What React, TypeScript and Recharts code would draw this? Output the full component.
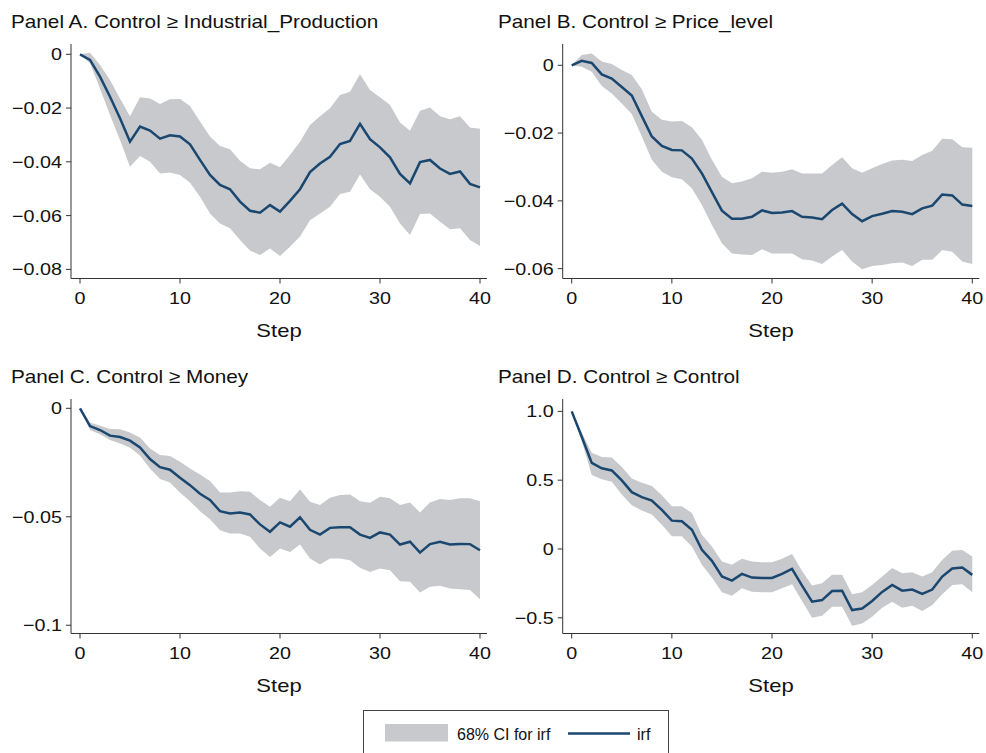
import React from 'react';
import { ComposedChart, Area, Line, XAxis, YAxis } from 'recharts';

const steps = [0, 1, 2, 3, 4, 5, 6, 7, 8, 9, 10, 11, 12, 13, 14, 15, 16, 17, 18, 19, 20, 21, 22, 23, 24, 25, 26, 27, 28, 29, 30, 31, 32, 33, 34, 35, 36, 37, 38, 39, 40];
const xTicks = [0, 10, 20, 30, 40];

// Panel A: Control >= Industrial_Production
const irfA = [0, -0.0021, -0.0083, -0.0158, -0.0238, -0.0325, -0.0269, -0.0284, -0.0314, -0.0301, -0.0306, -0.0335, -0.0393, -0.0449, -0.0486, -0.0502, -0.0548, -0.0582, -0.0589, -0.0561, -0.0585, -0.0545, -0.0502, -0.0438, -0.0406, -0.0381, -0.0334, -0.0322, -0.0259, -0.0316, -0.0346, -0.0383, -0.0445, -0.048, -0.0401, -0.0393, -0.0425, -0.0445, -0.0436, -0.0482, -0.0495];
const upperA = [0, 0.0006, -0.004, -0.0096, -0.0164, -0.023, -0.016, -0.0164, -0.0185, -0.0167, -0.0166, -0.0192, -0.025, -0.0306, -0.0341, -0.0353, -0.0396, -0.0424, -0.0428, -0.0403, -0.042, -0.0375, -0.0325, -0.0263, -0.023, -0.0201, -0.0151, -0.0139, -0.0074, -0.0133, -0.016, -0.0189, -0.0254, -0.0284, -0.021, -0.0198, -0.023, -0.0242, -0.023, -0.0272, -0.0277];
const lowerA = [0, -0.0033, -0.0127, -0.0226, -0.0319, -0.0418, -0.0378, -0.04, -0.0443, -0.044, -0.0449, -0.0478, -0.053, -0.0592, -0.0629, -0.0647, -0.0691, -0.073, -0.0747, -0.0722, -0.075, -0.0716, -0.0678, -0.0617, -0.0592, -0.0567, -0.052, -0.0511, -0.0447, -0.0502, -0.053, -0.0567, -0.0629, -0.0672, -0.0594, -0.0592, -0.0623, -0.0651, -0.0647, -0.0691, -0.0713];
const yTicksA = [0, -0.02, -0.04, -0.06, -0.08];
const yLabelsA = ['0', '\u22120.02', '\u22120.04', '\u22120.06', '\u22120.08'];

// Panel B: Control >= Price_level
const irfB = [0, 0.0013, 0.0007, -0.0027, -0.0039, -0.0064, -0.0089, -0.015, -0.021, -0.0238, -0.025, -0.0251, -0.0275, -0.0319, -0.0374, -0.0429, -0.0453, -0.0453, -0.0447, -0.0428, -0.0436, -0.0434, -0.043, -0.0447, -0.0449, -0.0454, -0.0427, -0.0408, -0.0439, -0.046, -0.0445, -0.0438, -0.043, -0.0432, -0.0439, -0.0422, -0.0414, -0.0381, -0.0384, -0.0411, -0.0415];
const upperB = [0, 0.003, 0.0035, 0.0011, 0.0004, -0.0014, -0.0029, -0.0071, -0.0137, -0.0161, -0.0166, -0.0164, -0.0183, -0.022, -0.0279, -0.0329, -0.0348, -0.0343, -0.0333, -0.0314, -0.0317, -0.0314, -0.0307, -0.0319, -0.0319, -0.0319, -0.0294, -0.0271, -0.0304, -0.0317, -0.0304, -0.0291, -0.0281, -0.0279, -0.0282, -0.0265, -0.0252, -0.0217, -0.0218, -0.0242, -0.0243];
const lowerB = [0, -0.0004, -0.0019, -0.0061, -0.0083, -0.0113, -0.0144, -0.021, -0.0279, -0.0314, -0.033, -0.0336, -0.0363, -0.0412, -0.0471, -0.0525, -0.0555, -0.0558, -0.056, -0.0543, -0.0555, -0.0555, -0.0555, -0.0572, -0.0576, -0.0586, -0.0564, -0.0545, -0.0579, -0.0602, -0.0592, -0.0589, -0.0584, -0.0582, -0.0592, -0.0574, -0.0574, -0.0545, -0.055, -0.0579, -0.0586];
const yTicksB = [0, -0.02, -0.04, -0.06];
const yLabelsB = ['0', '\u22120.02', '\u22120.04', '\u22120.06'];

// Panel C: Control >= Money
const irfC = [0, -0.0082, -0.01, -0.0126, -0.0132, -0.0149, -0.018, -0.0234, -0.0271, -0.0283, -0.032, -0.0354, -0.0394, -0.0422, -0.0474, -0.0485, -0.048, -0.0489, -0.0535, -0.0569, -0.0526, -0.0546, -0.0502, -0.056, -0.0582, -0.0551, -0.0548, -0.0548, -0.0582, -0.0597, -0.0572, -0.0582, -0.0628, -0.0615, -0.0665, -0.0626, -0.0615, -0.0628, -0.0625, -0.0626, -0.0654];
const upperC = [0, -0.0065, -0.008, -0.0095, -0.0097, -0.0112, -0.0135, -0.0185, -0.0215, -0.022, -0.0246, -0.0277, -0.0305, -0.0335, -0.0388, -0.0388, -0.0382, -0.0385, -0.0423, -0.0454, -0.0412, -0.0428, -0.0374, -0.0431, -0.0446, -0.0412, -0.04, -0.0397, -0.0428, -0.0435, -0.0408, -0.0415, -0.0446, -0.0434, -0.048, -0.0434, -0.0418, -0.0423, -0.0415, -0.0415, -0.0428];
const lowerC = [0, -0.01, -0.012, -0.0146, -0.0162, -0.0182, -0.0218, -0.0277, -0.0326, -0.0342, -0.0388, -0.0428, -0.0474, -0.0511, -0.0562, -0.0577, -0.0577, -0.0592, -0.0646, -0.0685, -0.0646, -0.0662, -0.0628, -0.0692, -0.072, -0.0692, -0.0692, -0.07, -0.0735, -0.0754, -0.0738, -0.0746, -0.0797, -0.08, -0.0849, -0.0823, -0.0818, -0.0831, -0.0834, -0.0838, -0.088];
const yTicksC = [0, -0.05, -0.1];
const yLabelsC = ['0', '\u22120.05', '\u22120.1'];

// Panel D: Control >= Control
const irfD = [1.0, 0.815, 0.625, 0.586, 0.571, 0.498, 0.413, 0.377, 0.352, 0.284, 0.206, 0.201, 0.14, -0.006, -0.086, -0.2, -0.23, -0.181, -0.208, -0.21, -0.21, -0.181, -0.144, -0.266, -0.383, -0.371, -0.305, -0.303, -0.444, -0.432, -0.378, -0.312, -0.261, -0.303, -0.295, -0.327, -0.295, -0.2, -0.142, -0.135, -0.188];
const upperD = [1.0, 0.847, 0.7, 0.669, 0.664, 0.596, 0.513, 0.482, 0.457, 0.391, 0.311, 0.311, 0.262, 0.104, 0.019, -0.091, -0.115, -0.071, -0.091, -0.096, -0.096, -0.071, -0.037, -0.159, -0.266, -0.249, -0.188, -0.188, -0.329, -0.315, -0.261, -0.2, -0.139, -0.176, -0.169, -0.2, -0.169, -0.079, -0.013, -0.008, -0.054];
const lowerD = [1.0, 0.786, 0.537, 0.506, 0.489, 0.396, 0.318, 0.279, 0.25, 0.177, 0.092, 0.092, 0.019, -0.115, -0.208, -0.315, -0.339, -0.286, -0.31, -0.315, -0.315, -0.286, -0.256, -0.378, -0.5, -0.485, -0.42, -0.42, -0.558, -0.541, -0.493, -0.427, -0.383, -0.427, -0.412, -0.451, -0.407, -0.329, -0.261, -0.256, -0.315];
const yTicksD = [1.0, 0.5, 0, -0.5];
const yLabelsD = ['1.0', '0.5', '0', '\u22120.5'];

const FONT = '"Liberation Sans", Arial, Helvetica, sans-serif';
const BAND = '#c8c9cc';
const LINE = '#1a476f';
const AXIS = '#333333';
const STRETCH = 1.16;

function build(irf: number[], lo: number[], hi: number[]) {
  return steps.map((s, i) => ({ step: s, irf: irf[i], ci: [lo[i], hi[i]] }));
}

function XTick(props: any) {
  const { x, y, payload } = props;
  return (
    <g transform={`translate(${x},${y})`}>
      <text transform={`scale(${STRETCH},1)`} textAnchor="middle" dy="0.71em" fontSize={17} fontFamily={FONT} fill="#111">
        {String(payload.value)}
      </text>
    </g>
  );
}

function makeYTick(ticks: number[], labels: string[]) {
  return function YTick(props: any) {
    const { x, y, payload } = props;
    const i = ticks.findIndex((t) => Math.abs(t - payload.value) < 1e-9);
    const label = i >= 0 ? labels[i] : String(payload.value);
    return (
      <g transform={`translate(${x},${y})`}>
        <text transform={`scale(${STRETCH},1)`} textAnchor="end" dy="0.355em" fontSize={17} fontFamily={FONT} fill="#111">
          {label}
        </text>
      </g>
    );
  };
}

function StepLabel(props: any) {
  const { viewBox } = props;
  const cx = viewBox.x + viewBox.width / 2;
  const by = viewBox.y + viewBox.height - 13;
  return (
    <g transform={`translate(${cx},${by})`}>
      <text transform={`scale(${STRETCH},1)`} textAnchor="middle" fontSize={19} fontFamily={FONT} fill="#111">
        Step
      </text>
    </g>
  );
}

type PanelProps = {
  title: string;
  left: number;
  top: number;
  width: number;
  yAxisWidth: number;
  marginRight: number;
  domain: [number, number];
  ticks: number[];
  labels: string[];
  irf: number[];
  lo: number[];
  hi: number[];
  titleLeft: number;
};

function Panel(p: PanelProps) {
  const data = build(p.irf, p.lo, p.hi);
  const YTick = makeYTick(p.ticks, p.labels);
  return (
    <div style={{ position: 'absolute', left: p.left, top: p.top, width: p.width, height: 350 }}>
      <ComposedChart
        width={p.width}
        height={350}
        data={data}
        margin={{ top: 44, right: p.marginRight, bottom: 0, left: 0 }}
        style={{ fontFamily: FONT }}
      >
        <XAxis
          dataKey="step"
          type="number"
          domain={[-0.9, 40.7]}
          ticks={xTicks}
          allowDataOverflow
          height={71.5}
          tickSize={5}
          tickMargin={8}
          stroke={AXIS}
          tick={<XTick />}
          label={<StepLabel />}
        />
        <YAxis
          type="number"
          domain={p.domain}
          ticks={p.ticks}
          allowDataOverflow
          width={p.yAxisWidth}
          tickSize={5}
          tickMargin={4}
          stroke={AXIS}
          tick={<YTick />}
        />
        <Area dataKey="ci" stroke="none" fill={BAND} fillOpacity={1} isAnimationActive={false} />
        <Line dataKey="irf" stroke={LINE} strokeWidth={2.5} dot={false} isAnimationActive={false} />
      </ComposedChart>
      <div
        style={{
          position: 'absolute',
          left: p.titleLeft,
          top: 12.5,
          fontFamily: FONT,
          fontSize: 18.5,
          lineHeight: '18.5px',
          color: '#111',
          whiteSpace: 'nowrap',
          transform: 'scaleX(1.12)',
          transformOrigin: 'left top',
        }}
      >
        {p.title}
      </div>
    </div>
  );
}

function LegendBox() {
  return (
    <svg
      width={986}
      height={753}
      style={{ position: 'absolute', left: 0, top: 0, pointerEvents: 'none' }}
    >
      <rect x={363.5} y={710.5} width={305} height={60} fill="#fff" stroke="#444" strokeWidth={1} />
      <rect x={385} y={724} width={63} height={17.5} fill={BAND} />
      <text x={457} y={740} fontFamily={FONT} fontSize={16} fill="#111">68% CI for irf</text>
      <line x1={568} x2={630} y1={733.5} y2={733.5} stroke={LINE} strokeWidth={2.5} />
      <text x={637} y={740} fontFamily={FONT} fontSize={16} fill="#111">irf</text>
    </svg>
  );
}

export default function App() {
  return (
    <div
      style={{
        position: 'absolute',
        left: 0,
        top: 0,
        width: 986,
        height: 753,
        overflow: 'hidden',
        background: '#fff',
      }}
    >
      <Panel
        title={'Panel A. Control \u2265 Industrial_Production'}
        left={0}
        top={0}
        width={496}
        yAxisWidth={71}
        marginRight={9}
        domain={[-0.0834, 0.00383]}
        ticks={yTicksA}
        labels={yLabelsA}
        irf={irfA}
        lo={lowerA}
        hi={upperA}
        titleLeft={11}
      />
      <Panel
        title={'Panel B. Control \u2265 Price_level'}
        left={490}
        top={0}
        width={496}
        yAxisWidth={72.7}
        marginRight={6.7}
        domain={[-0.0629, 0.00628]}
        ticks={yTicksB}
        labels={yLabelsB}
        irf={irfB}
        lo={lowerB}
        hi={upperB}
        titleLeft={8}
      />
      <Panel
        title={'Panel C. Control \u2265 Money'}
        left={0}
        top={355}
        width={496}
        yAxisWidth={71}
        marginRight={9}
        domain={[-0.1038, 0.0043]}
        ticks={yTicksC}
        labels={yLabelsC}
        irf={irfC}
        lo={lowerC}
        hi={upperC}
        titleLeft={11}
      />
      <Panel
        title={'Panel D. Control \u2265 Control'}
        left={490}
        top={355}
        width={496}
        yAxisWidth={72.7}
        marginRight={6.7}
        domain={[-0.614, 1.0898]}
        ticks={yTicksD}
        labels={yLabelsD}
        irf={irfD}
        lo={lowerD}
        hi={upperD}
        titleLeft={8}
      />
      <LegendBox />
    </div>
  );
}
